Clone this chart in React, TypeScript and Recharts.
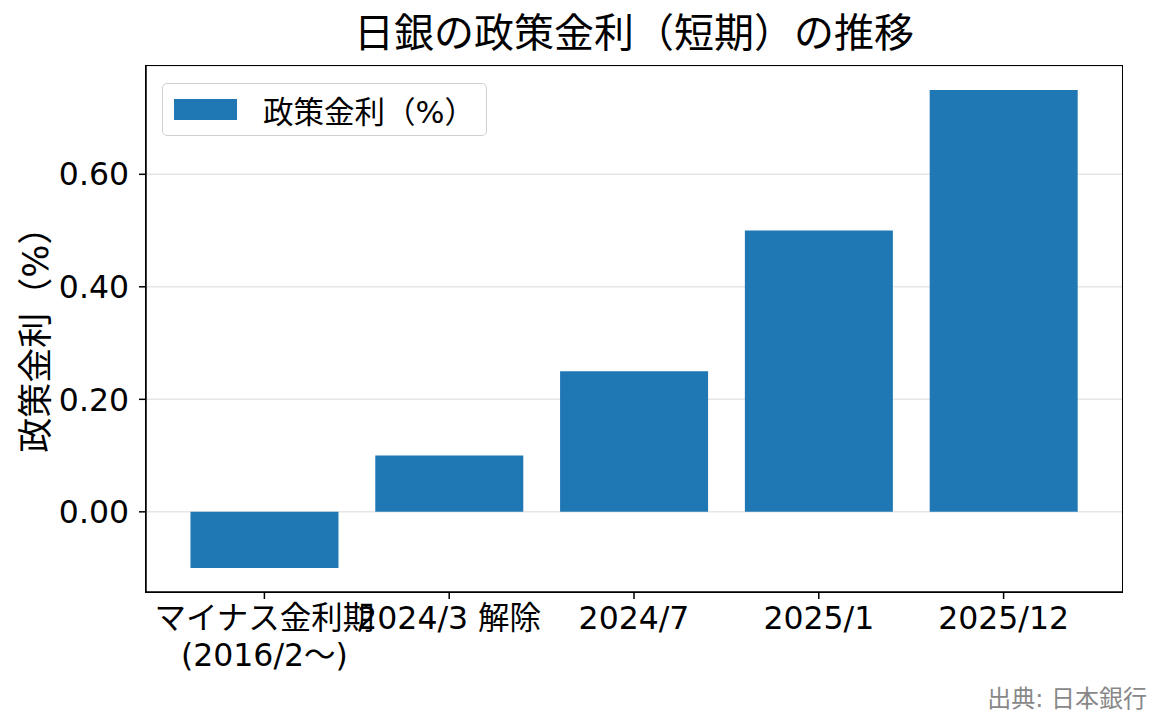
import React from 'react';
import {
    BarChart,
    Bar,
    XAxis,
    YAxis,
    CartesianGrid,
} from 'recharts';

const categories = ['マイナス金利期\n(2016/2〜)', '2024/3 解除', '2024/7', '2025/1', '2025/12'];
const rates = [-0.1, 0.1, 0.25, 0.5, 0.75];
const yTicks = [0, 0.2, 0.4, 0.6];

const FONT = '"DejaVu Sans", "Noto Sans CJK JP", sans-serif';
const BLUE = '#1f77b4';

const W = 1165;
const H = 725;
const PLOT = { left: 146, top: 66, right: 1122, bottom: 592 };
const Y_AXIS_W = 100;
const X_AXIS_H = 80;

const data = categories.map((name, i) => ({ name, rate: rates[i] }));

// multi-line x tick labels
const XTick = (props: any) => {
    const { x, y, payload } = props;
    const lines = String(payload.value).split('\n');
    return (
        <g transform={`translate(${x},${y})`}>
            {lines.map((line, i) => (
                <text
                    key={i}
                    x={0}
                    y={0}
                    dy={28 + i * 37}
                    textAnchor="middle"
                    fill="#000"
                    style={{ fontFamily: FONT, fontSize: 31.5 }}
                >
                    {line}
                </text>
            ))}
        </g>
    );
};

const LegendBox = () => (
    <div
        style={{
            position: 'absolute',
            left: 162,
            top: 83,
            width: 323,
            height: 51,
            border: '1.5px solid #d0d0d0',
            borderRadius: 5,
            background: 'rgba(255,255,255,0.8)',
            display: 'flex',
            alignItems: 'center',
            fontFamily: FONT,
            fontSize: 30.5,
            color: '#000',
        }}
    >
        <span style={{ display: 'inline-block', width: 63, height: 21, background: BLUE, marginLeft: 11, marginRight: 26 }} />
        <span>政策金利（%）</span>
    </div>
);

export default function App() {
    return (
        <div style={{ position: 'absolute', left: 0, top: 0, width: W, height: H, background: '#fff' }}>
            <div
                style={{
                    position: 'absolute',
                    left: 0,
                    width: (PLOT.left + PLOT.right),
                    top: 5,
                    textAlign: 'center',
                    fontFamily: FONT,
                    fontSize: 40,
                    lineHeight: '56px',
                    color: '#000',
                }}
            >
                日銀の政策金利（短期）の推移
            </div>
            <div
                style={{
                    position: 'absolute',
                    left: 32,
                    top: 331,
                    transform: 'translate(-50%, -50%) rotate(-90deg)',
                    whiteSpace: 'nowrap',
                    fontFamily: FONT,
                    fontSize: 35,
                    color: '#000',
                }}
            >
                政策金利（%）
            </div>
            <BarChart
                width={W}
                height={H}
                data={data}
                barCategoryGap="10%"
                margin={{
                    top: PLOT.top,
                    left: PLOT.left - Y_AXIS_W,
                    right: W - PLOT.right,
                    bottom: H - PLOT.bottom - X_AXIS_H,
                }}
            >
                <CartesianGrid vertical={false} stroke="#e6e6e6" strokeWidth={1.5} />
                <XAxis
                    dataKey="name"
                    height={X_AXIS_H}
                    interval={0}
                    padding={{ left: 26, right: 26 }}
                    tick={<XTick />}
                    tickSize={7}
                    axisLine={{ stroke: '#000', strokeWidth: 1.5 }}
                    tickLine={{ stroke: '#000', strokeWidth: 1.5 }}
                />
                <YAxis
                    width={Y_AXIS_W}
                    type="number"
                    domain={[-0.1425, 0.7925]}
                    allowDataOverflow
                    ticks={yTicks}
                    interval={0}
                    tickFormatter={(v: number) => v.toFixed(2)}
                    tickSize={7}
                    tickMargin={10}
                    tick={{ fill: '#000', fontFamily: FONT, fontSize: 31.5 }}
                    axisLine={{ stroke: '#000', strokeWidth: 1.5 }}
                    tickLine={{ stroke: '#000', strokeWidth: 1.5 }}
                />
                <Bar dataKey="rate" name="政策金利（%）" fill={BLUE} isAnimationActive={false} />
            </BarChart>
            <LegendBox />
            {/* frame around the plot area */}
            <div
                style={{
                    position: 'absolute',
                    left: PLOT.left - 0.75,
                    top: PLOT.top - 0.75,
                    width: PLOT.right - PLOT.left,
                    height: PLOT.bottom - PLOT.top,
                    border: '1.5px solid #000',
                    pointerEvents: 'none',
                }}
            />
            <div
                style={{
                    position: 'absolute',
                    right: 18,
                    top: 679,
                    fontFamily: FONT,
                    fontSize: 24,
                    color: '#888',
                }}
            >
                出典: 日本銀行
            </div>
        </div>
    );
}
